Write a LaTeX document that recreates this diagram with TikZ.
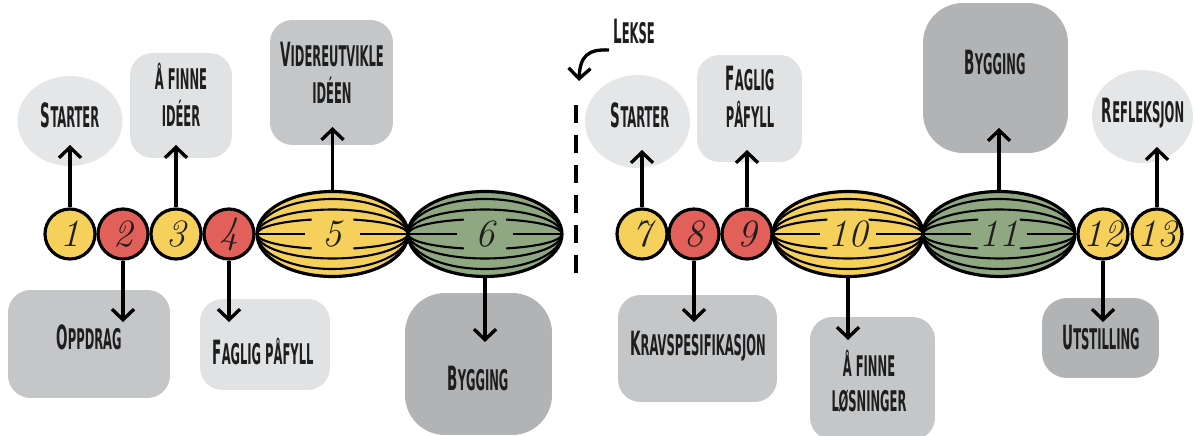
\documentclass[tikz,border=0pt]{standalone}
\usepackage{fontspec}
\usepackage{graphicx}
\usetikzlibrary{arrows.meta,shapes.geometric}

\newfontfamily\lblfont{DejaVu Sans Condensed}

\definecolor{sunny}{HTML}{F5D15C}
\definecolor{coral}{HTML}{E2605A}
\definecolor{sage}{HTML}{8FA882}
\definecolor{paleA}{HTML}{E5E6E7}
\definecolor{paleB}{HTML}{E1E2E3}
\definecolor{midgray}{HTML}{C5C6C8}
\definecolor{darkgray}{HTML}{B2B3B5}
\definecolor{ink}{HTML}{1E1E1E}

% narrow small-caps style labels
\newcommand\lbl[1]{\scalebox{0.45}[1]{\lblfont\bfseries\fontsize{16.2}{20}\selectfont\begin{tabular}{@{}c@{}}#1\end{tabular}}}
\newcommand\capl[1]{{\fontsize{19}{20}\selectfont #1}}
\newcommand\numf{\itshape\fontsize{22}{24}\selectfont}

% striped phase: name, x, y, fill, x radius (cm), number
\newcommand\melon[6]{%
  \node[melon, fill=#4, minimum width=#5*2cm] (#1) at (#2,#3) {};
  \begin{scope}[shift={(#2,#3)}, x=1cm, y=1cm, seam]
    \foreach \k in {0.70,0.49}{
      \draw (-#5,0) arc[start angle=180, end angle=0, x radius=#5cm, y radius=\k cm];
      \draw (-#5,0) arc[start angle=180, end angle=360, x radius=#5cm, y radius=\k cm];
    }
    \draw (-#5,0) arc[start angle=180, end angle=106, x radius=#5cm, y radius=0.3cm];
    \draw (-#5,0) arc[start angle=180, end angle=254, x radius=#5cm, y radius=0.3cm];
    \draw (#5,0) arc[start angle=0, end angle=74, x radius=#5cm, y radius=0.3cm];
    \draw (#5,0) arc[start angle=0, end angle=-74, x radius=#5cm, y radius=0.3cm];
    \draw (-#5,0) -- ({-0.37*#5},0);
    \draw (#5,0) -- ({0.37*#5},0);
  \end{scope}
  \node[num] (#1-n) at (#1.center) {#6};
}

\tikzset{
  melon/.style={ellipse, draw=black, line width=1.8pt, minimum height=1.7cm, inner sep=0pt},
  seam/.style={draw=black, line width=1.2pt},
  num/.style={font=\numf, text=ink, inner sep=0pt},
  dot/.style={circle, draw=black, line width=1.8pt, minimum size=1cm, inner sep=0pt, font=\numf, text=ink},
  blob/.style={rectangle, rounded corners=0.45cm, inner sep=0pt, draw=none},
  round blob/.style={ellipse, inner sep=0pt, draw=none},
  txt/.style={inner sep=0pt, text=ink},
  arr/.style={line width=1.9pt, -{Straight Barb[length=2.1mm, width=4.4mm]}},
  gapline/.style={line width=0.075cm, dash pattern=on 0.36cm off 0.24cm}
}

\begin{document}
\begin{tikzpicture}[x=0.02cm, y=-0.02cm]
\useasboundingbox (0,0) rectangle (1194,436);

% ---------- background cards ----------
\node[round blob, fill=paleA, minimum width=2.1cm, minimum height=1.8cm] (sL) at (70,121) {};
\node[blob, fill=paleB, minimum width=2.04cm, minimum height=2.1cm] (fiL) at (181,105.5) {};
\node[blob, fill=midgray, minimum width=2.46cm, minimum height=2.5cm] (vL) at (331.5,82.5) {};
\node[blob, fill=midgray, minimum width=3.24cm, minimum height=2.16cm] (oL) at (89,344) {};
\node[blob, fill=paleB, minimum width=2.6cm, minimum height=1.82cm] (fpL) at (265,344.5) {};
\node[blob, rounded corners=0.8cm, fill=darkgray, minimum width=2.94cm, minimum height=2.84cm] (byL) at (478.5,364) {};

\node[round blob, fill=paleA, minimum width=2.1cm, minimum height=1.86cm] (sR) at (637.5,121.5) {};
\node[blob, fill=paleB, minimum width=2.1cm, minimum height=2.14cm] (fpR) at (749.5,108.5) {};
\node[blob, rounded corners=0.8cm, fill=darkgray, minimum width=2.9cm, minimum height=3.0cm] (byR) at (995.5,78) {};
\node[round blob, fill=paleA, minimum width=2.02cm, minimum height=1.86cm] (rR) at (1142.5,116.5) {};
\node[blob, fill=midgray, minimum width=3.18cm, minimum height=2.14cm] (krR) at (697.5,348.5) {};
\node[blob, fill=midgray, minimum width=2.5cm, minimum height=2.46cm] (flR) at (872.5,378.5) {};
\node[blob, rounded corners=0.5cm, fill=darkgray, minimum width=2.34cm, minimum height=1.6cm] (uR) at (1100.5,338) {};

% ---------- card labels ----------
\node[txt] (tsL) at (70,120) {\lbl{\capl{S}TARTER}};
\node[txt] (tfiL) at (181,100) {\lbl{Å FINNE\\IDÉER}};
\node[txt] (tvL) at (332,78) {\lbl{\capl{V}IDEREUTVIKLE\\IDÉEN}};
\node[txt] (toL) at (89,342) {\lbl{\capl{O}PPDRAG}};
\node[txt] (tfpL) at (263,357) {\lbl{\capl{F}AGLIG PÅFYLL}};
\node[txt] (tbyL) at (478,383) {\lbl{\capl{B}YGGING}};
\node[txt] (tlk) at (634,36) {\lbl{\capl{L}EKSE}};
\node[txt] (tsR) at (640,120) {\lbl{\capl{S}TARTER}};
\node[txt] (tfpR) at (750,102) {\lbl{\capl{F}AGLIG\\PÅFYLL}};
\node[txt] (tbyR) at (995,67) {\lbl{\capl{B}YGGING}};
\node[txt] (trR) at (1143,115) {\lbl{\capl{R}EFLEKSJON}};
\node[txt] (tkrR) at (698,348) {\lbl{\capl{K}RAVSPESIFIKASJON}};
\node[txt] (tflR) at (869,386) {\lbl{Å FINNE\\LØSNINGER}};
\node[txt] (tuR) at (1101,342) {\lbl{\capl{U}TSTILLING}};

% ---------- phase chain ----------
\node[dot, fill=sunny] (c1) at (70,234) {1};
\node[dot, fill=coral] (c2) at (123,234) {2};
\node[dot, fill=sunny] (c3) at (176,234) {3};
\node[dot, fill=coral] (c4) at (229,234) {4};
\melon{m5}{332.5}{234}{sunny}{1.51}{5}
\melon{m6}{485}{234}{sage}{1.54}{6}

\node[dot, fill=sunny] (c7) at (642,234) {7};
\node[dot, fill=coral] (c8) at (694,234) {8};
\node[dot, fill=coral] (c9) at (747,234) {9};
\melon{m10}{848}{234}{sunny}{1.5}{10}
\melon{m11}{999}{234}{sage}{1.52}{11}
\node[dot, fill=sunny] (c12) at (1103,234) {12};
\node[dot, fill=sunny] (c13) at (1157,234) {13};

% ---------- arrow tips inside the cards ----------
\coordinate (a1) at (70,145);
\coordinate (a3) at (176,145);
\coordinate (a5) at (332.5,127);
\coordinate (a2) at (123,322);
\coordinate (a4) at (229,322);
\coordinate (a6) at (485,342);
\coordinate (a7) at (642,150);
\coordinate (a9) at (747,150);
\coordinate (a11) at (999,128);
\coordinate (a13) at (1157,147);
\coordinate (a8) at (694,322);
\coordinate (a10) at (848,340);
\coordinate (a12) at (1103,322);

\draw[arr] (c1.north) -- (a1);
\draw[arr] (c3.north) -- (a3);
\draw[arr] (m5.north) -- (a5);
\draw[arr] (c2.south) -- (a2);
\draw[arr] (c4.south) -- (a4);
\draw[arr] (m6.south) -- (a6);
\draw[arr] (c7.north) -- (a7);
\draw[arr] (c9.north) -- (a9);
\draw[arr] (m11.north) -- (a11);
\draw[arr] (c13.north) -- (a13);
\draw[arr] (c8.south) -- (a8);
\draw[arr] (m10.south) -- (a10);
\draw[arr] (c12.south) -- (a12);

% ---------- homework break ----------
\coordinate (d1) at (576,105);
\coordinate (d2) at (576,275);
\draw[gapline] (d1) -- (d2);
\coordinate (lkA) at (609,50);
\coordinate (lkB) at (579,81);
\draw[arr] (lkA) .. controls (588,49) and (580,56) .. (lkB);
\end{tikzpicture}
\end{document}
